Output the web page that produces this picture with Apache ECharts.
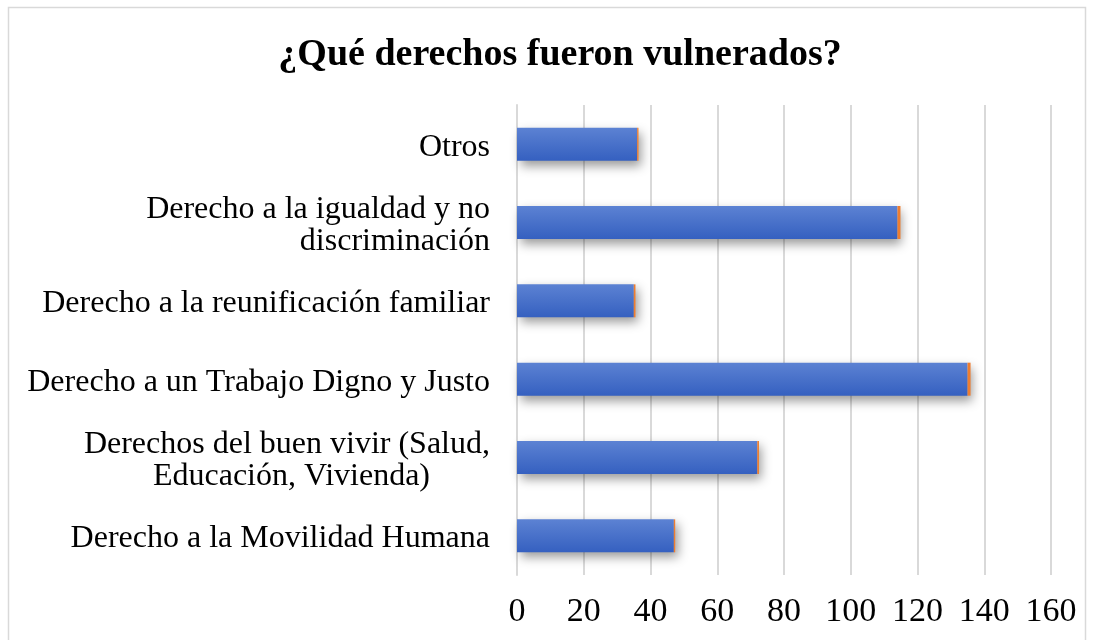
<!DOCTYPE html>
<html>
<head>
<meta charset="utf-8">
<script src="https://cdn.jsdelivr.net/npm/echarts@6/dist/echarts.min.js"></script>
<style>
html,body{margin:0;padding:0;background:#fff;}
#chart{width:1094px;height:640px;}
</style>
</head>
<body>
<div id="chart"></div>
<script>
const titleText = '¿Qué derechos fueron vulnerados?';
const categories = [
  'Derecho a la Movilidad Humana',
  'Derechos del buen vivir (Salud,\nEducación, Vivienda)',
  'Derecho a un Trabajo Digno y Justo',
  'Derecho a la reunificación familiar',
  'Derecho a la igualdad y no\ndiscriminación',
  'Otros'
];
const mainValues = [47, 72, 135, 35, 114, 36];
const secondValues = [0.4, 0.5, 0.9, 0.5, 0.9, 0.4];
const xTicks = [0, 20, 40, 60, 80, 100, 120, 140, 160];

const chart = echarts.init(document.getElementById('chart'));
const serif = '"Liberation Serif", "Times New Roman", serif';
chart.setOption({
  animation: false,
  title: {
    text: titleText, left: 555, textAlign: 'center', top: 31,
    textStyle: {fontFamily: serif, fontWeight: 'bold', fontSize: 38, color: '#000'}
  },
  graphic: [{
    type: 'rect', shape: {x: 8.5, y: 7.5, width: 1077, height: 640},
    style: {fill: 'none', stroke: '#d9d9d9', lineWidth: 1.5}, silent: true
  }],
  grid: {left: 517, right: 43, top: 105, bottom: 65},
  xAxis: {
    type: 'value', min: xTicks[0], max: xTicks[xTicks.length - 1], interval: 20,
    axisLine: {show: false}, axisTick: {show: false},
    splitLine: {show: true, lineStyle: {color: '#d9d9d9', width: 2}},
    axisLabel: {fontFamily: serif, fontSize: 34, color: '#000', margin: 20}
  },
  yAxis: {
    type: 'category', data: categories,
    axisLine: {show: true, lineStyle: {color: '#d9d9d9', width: 2}},
    axisTick: {show: false},
    axisLabel: {
      fontFamily: serif, fontSize: 32, color: '#000', margin: 27, lineHeight: 32,
      padding: [6, 0, 0, 0],
      formatter: function (v) {
        if (v.indexOf('Salud') >= 0) {
          const parts = v.split('\n');
          return parts[0] + '\n{b|' + parts[1] + '}';
        }
        return v;
      },
      rich: {b: {fontFamily: serif, fontSize: 32, color: '#000', lineHeight: 32, padding: [0, 60, 0, 0]}}
    }
  },
  series: [
    {
      type: 'bar', stack: 'a', data: mainValues, barWidth: 33,
      itemStyle: {
        color: new echarts.graphic.LinearGradient(0, 0, 0, 1, [
          {offset: 0, color: '#5c82d3'}, {offset: 1, color: '#3560c0'}
        ]),
        shadowColor: 'rgba(0,0,0,0.4)', shadowBlur: 10, shadowOffsetX: 4, shadowOffsetY: 5
      }
    },
    {
      type: 'bar', stack: 'a', data: secondValues, barWidth: 33,
      itemStyle: {color: '#ed7d31'}
    }
  ]
});
</script>
</body>
</html>
